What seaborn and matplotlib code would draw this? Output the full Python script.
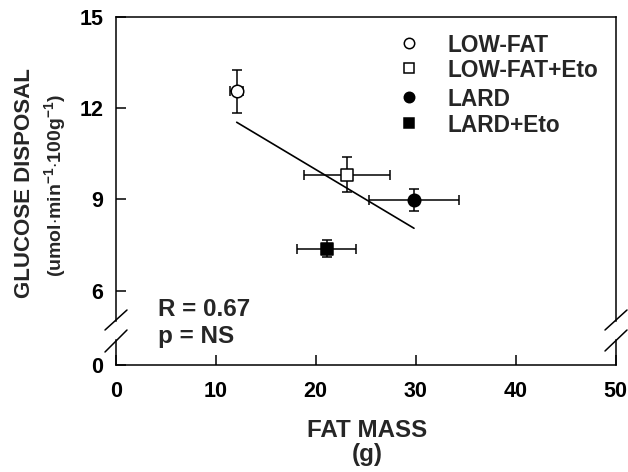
import numpy as np
import pandas as pd
import seaborn as sns
import matplotlib
matplotlib.use("Agg")
import matplotlib.pyplot as plt
from matplotlib.lines import Line2D

# ---- data ----
groups = ["LOW-FAT", "LOW-FAT+Eto", "LARD", "LARD+Eto"]
fat_mass = [12.1, 23.15, 29.83, 21.1]
fat_mass_err = [0.65, 4.3, 4.5, 2.95]
glucose = [12.55, 9.81, 8.99, 7.37]
glucose_err = [0.7, 0.58, 0.36, 0.28]
markers = ["o", "s", "o", "s"]
faces = ["white", "white", "black", "black"]
x_ticks = [0, 10, 20, 30, 40, 50]
y_ticks_top = [6, 9, 12, 15]
stat_lines = ["R = 0.67", "p = NS"]

df = pd.DataFrame({"group": groups, "fat": fat_mass, "glu": glucose})

sns.set_style("ticks")
plt.rcParams["font.family"] = ["Liberation Sans", "DejaVu Sans"]
plt.rcParams["font.weight"] = "bold"
plt.rcParams["mathtext.fontset"] = "custom"
plt.rcParams["mathtext.rm"] = "Liberation Sans:bold"
plt.rcParams["mathtext.bf"] = "Liberation Sans:bold"
plt.rcParams["mathtext.it"] = "Liberation Sans:bold"

W, H = 628, 472
fig = plt.figure(figsize=(W / 100, H / 100), dpi=100)

def fx(px):
    return px / W

def fy(py):
    return 1 - py / H

left_px, right_px = 115.7, 615.7
ax = fig.add_axes([fx(left_px), fy(321), fx(right_px - left_px), (321 - 17) / H])
ax2 = fig.add_axes([fx(left_px), fy(365), fx(right_px - left_px), (365 - 340) / H])

lw = 1.1
for a in (ax, ax2):
    a.set_facecolor("white")
    for s in a.spines.values():
        s.set_linewidth(lw)
        s.set_color("black")
    a.tick_params(direction="in", length=7.5, width=lw, labelsize=15.5, colors="black")
    a.set_xlim(0, 50)

ax.spines["bottom"].set_visible(False)
ax2.spines["top"].set_visible(False)
ax.set_ylim(5, 15)
ax.set_yticks(y_ticks_top)
ax.set_xticks([])
ax.tick_params(axis="x", bottom=False, labelbottom=False)
ax.tick_params(axis="y", pad=9)
ax2.set_ylim(0, 25 / 30.44)
ax2.set_yticks([0])
ax2.set_xticks(x_ticks)
ax2.tick_params(axis="x", pad=11.5)
ax2.tick_params(axis="y", pad=9)
for a in (ax, ax2):
    for lab in a.get_xticklabels() + a.get_yticklabels():
        lab.set_fontweight("bold")

# regression line
sns.regplot(data=df, x="fat", y="glu", ax=ax, scatter=False, ci=None, truncate=True,
            line_kws=dict(color="black", lw=1.2, zorder=2))

# error bars and points
for i, g in enumerate(groups):
    ax.errorbar(fat_mass[i], glucose[i], xerr=fat_mass_err[i], yerr=glucose_err[i],
                fmt="none", ecolor="black", elinewidth=1.1, capsize=3.8, capthick=1.1, zorder=3)
    ms = 9 if markers[i] == "o" else 8
    sns.scatterplot(x=[fat_mass[i]], y=[glucose[i]], ax=ax, marker=markers[i],
                    s=ms ** 2, color=faces[i], edgecolor="black", linewidth=1.1,
                    zorder=4, legend=False)
ax.set_xlabel("")
ax.set_ylabel("")
ax2.set_xlabel("")
ax2.set_ylabel("")

# legend (manual)
leg_rows = [43.3, 68.3, 96.7, 123.3]
for i, g in enumerate(groups):
    fig.add_artist(Line2D([fx(409)], [fy(leg_rows[i])], marker=markers[i], ms=7.5,
                          mfc=faces[i], mec="black", mew=1.1, ls="none",
                          transform=fig.transFigure))
    fig.text(fx(448), fy(leg_rows[i]), g, fontsize=16.3, fontweight="bold",
             ha="left", va="center_baseline")

# axis break marks
for (x0, y0, x1, y1) in [(105, 330, 127, 310), (105, 352, 127, 330),
                         (605, 330, 627, 310), (605, 351, 627, 330)]:
    fig.add_artist(Line2D([fx(x0), fx(x1)], [fy(y0), fy(y1)], color="black", lw=lw,
                          transform=fig.transFigure))

# stats text
fig.text(fx(158), fy(316), stat_lines[0], fontsize=17.5, fontweight="bold", va="baseline")
fig.text(fx(158), fy(343), stat_lines[1], fontsize=17.5, fontweight="bold", va="baseline")

# axis labels
fig.text(fx(367), fy(437), "FAT MASS", fontsize=17.4, fontweight="bold", ha="center", va="baseline")
fig.text(fx(367), fy(461), "(g)", fontsize=17.4, fontweight="bold", ha="center", va="baseline")
fig.text(fx(25), fy(183), "GLUCOSE DISPOSAL", fontsize=16, fontweight="bold",
         rotation=90, ha="center", va="center")
fig.text(fx(55), fy(186), r"(umol$\cdot$min$^{-1}$$\cdot$100g$^{-1}$)", fontsize=14,
         fontweight="bold", rotation=90, ha="center", va="center")

fig.savefig("out.png", dpi=100, facecolor="white")
